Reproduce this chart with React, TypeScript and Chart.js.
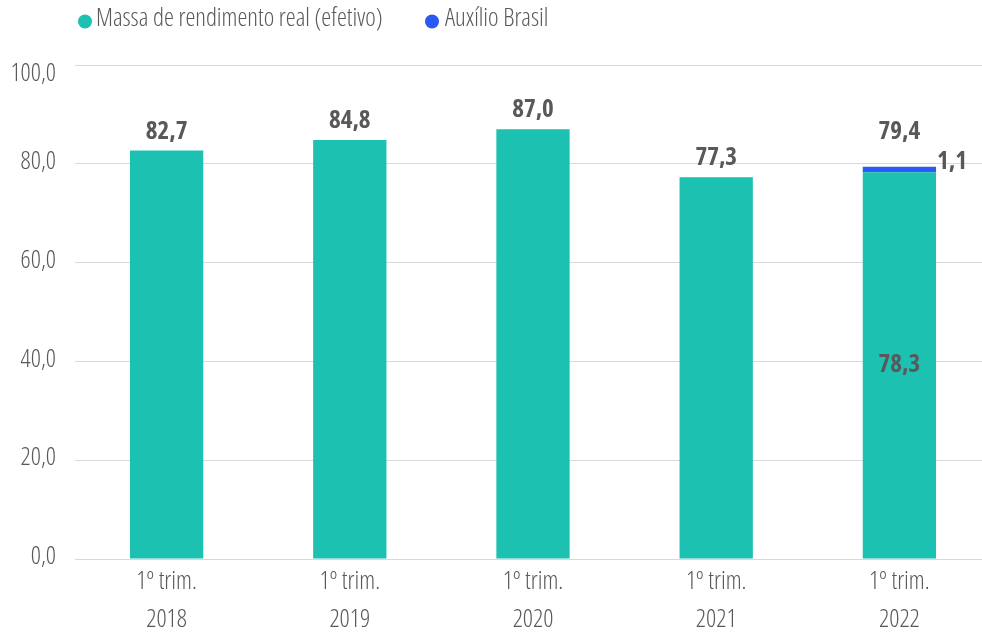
import React, { useEffect, useRef } from "react";
import { Chart, registerables } from "chart.js";

Chart.register(...registerables);

const categories: string[][] = [
  ["1º trim.", "2018"],
  ["1º trim.", "2019"],
  ["1º trim.", "2020"],
  ["1º trim.", "2021"],
  ["1º trim.", "2022"],
];
const massa: number[] = [82.7, 84.8, 87.0, 77.3, 78.3];
const auxilio: number[] = [0, 0, 0, 0, 1.1];
const seriesNames: string[] = ["Massa de rendimento real (efetivo)", "Auxílio Brasil"];
const yTicks: number[] = [0, 20, 40, 60, 80, 100];

const TEAL = "#1DC1B1";
const BLUE = "#2B59F3";
const TEXT = "#595959";
const FAMILY = "'Open Sans', 'Liberation Sans Narrow', sans-serif";
const fmt = (v: number) => v.toFixed(1).replace(".", ",");

const labelsPlugin = {
  id: "customLabels",
  afterDraw(chart: any) {
    const ctx = chart.ctx;
    const m0 = chart.getDatasetMeta(0);
    const m1 = chart.getDatasetMeta(1);
    const ys = chart.scales.y;
    ctx.save();
    // y tick labels
    ctx.font = "condensed 300 25px " + FAMILY;
    ctx.fillStyle = TEXT;
    ctx.textAlign = "right";
    ctx.textBaseline = "middle";
    for (const v of yTicks) {
      let y = ys.getPixelForValue(v);
      if (v === ys.max) y += 11;
      ctx.fillText(fmt(v), ys.right - 19, y - 2);
    }
    // data labels
    ctx.font = "condensed bold 25px " + FAMILY;
    ctx.textAlign = "center";
    for (let i = 0; i < massa.length; i++) {
      const b0 = m0.data[i];
      const total = massa[i] + auxilio[i];
      if (auxilio[i] > 0) {
        const b1 = m1.data[i];
        ctx.fillText(fmt(total), b1.x, b1.y - 35);
        ctx.textAlign = "left";
        ctx.fillText(fmt(auxilio[i]), b1.x + b1.width / 2 + 1, b1.y - 5);
        ctx.textAlign = "center";
        ctx.fillText(fmt(massa[i]), b0.x, (b0.y + b0.base) / 2);
      } else {
        ctx.fillText(fmt(total), b0.x, b0.y - 19);
      }
    }
    // legend
    ctx.font = "condensed 300 25px " + FAMILY;
    ctx.textAlign = "left";
    const items = [
      { c: TEAL, x: 85, tx: 96, t: seriesNames[0] },
      { c: BLUE, x: 432, tx: 445, t: seriesNames[1] },
    ];
    for (const it of items) {
      ctx.fillStyle = it.c;
      ctx.beginPath();
      ctx.arc(it.x, 21.5, 7, 0, Math.PI * 2);
      ctx.fill();
      ctx.fillStyle = TEXT;
      ctx.fillText(it.t, it.tx, 19);
    }
    ctx.restore();
  },
};

export default function App() {
  const ref = useRef<HTMLCanvasElement>(null);
  useEffect(() => {
    const chart = new Chart(ref.current!, {
      type: "bar",
      data: {
        labels: categories,
        datasets: [
          { label: seriesNames[0], data: massa, backgroundColor: TEAL, barPercentage: 0.4, categoryPercentage: 1 },
          { label: seriesNames[1], data: auxilio, backgroundColor: BLUE, barPercentage: 0.4, categoryPercentage: 1 },
        ],
      },
      options: {
        animation: false,
        responsive: false,
        maintainAspectRatio: false,
        layout: { padding: { top: 65, right: 0, left: 0, bottom: 0 } },
        plugins: { legend: { display: false }, tooltip: { enabled: false } },
        scales: {
          x: {
            stacked: true,
            grid: { display: false, drawTicks: false },
            border: { color: "#d9d9d9", width: 1 },
            ticks: {
              color: TEXT,
              padding: 4,
              font: { family: FAMILY, size: 25, weight: "condensed 300" as any, lineHeight: 1.52 },
            },
            afterFit: (s: any) => { s.height = 73; },
          },
          y: {
            stacked: true,
            min: 0,
            max: 100,
            afterBuildTicks: (s: any) => { s.ticks = yTicks.map((v) => ({ value: v })); },
            grid: { color: "#d9d9d9", drawTicks: false },
            border: { display: false },
            ticks: { display: false },
            afterFit: (s: any) => { s.width = 75; },
          },
        },
      },
      plugins: [labelsPlugin],
    });
    return () => chart.destroy();
  }, []);
  return (
    <div style={{ position: "absolute", left: 0, top: 0, width: 982, height: 632, overflow: "hidden", background: "#fff" }}>
      <canvas ref={ref} width={991} height={632} />
    </div>
  );
}
